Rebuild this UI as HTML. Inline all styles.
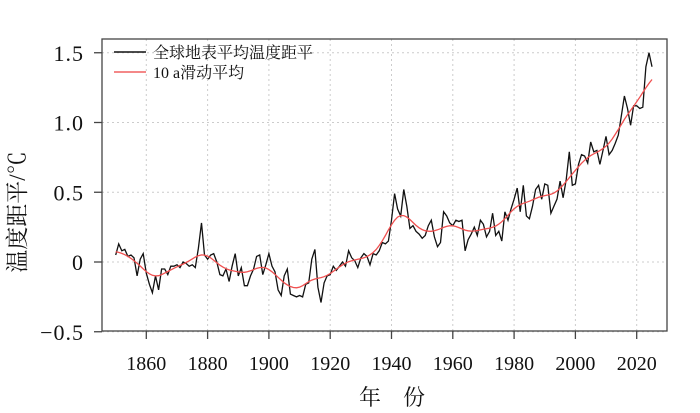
<!DOCTYPE html>
<html><head><meta charset="utf-8"><style>
body{margin:0;background:#fff;}
svg text{font-family:"Liberation Serif","Noto Serif CJK SC",serif;}
</style></head><body>
<svg id="s" width="700" height="408" xmlns="http://www.w3.org/2000/svg">
<rect x="0" y="0" width="700" height="408" fill="#fff"/>
<g id="grid" stroke="#ccc" stroke-width="1" stroke-dasharray="2,3"></g>
<g id="series"></g>
<rect x="102" y="39" width="565" height="292" fill="none" stroke="#444" stroke-width="1.3"/>
<g id="axes" stroke="#444" stroke-width="1.3"></g>
<g id="labels" fill="#111"></g>
<line x1="114" y1="52" x2="146" y2="52" stroke="#111" stroke-width="1.5"/>
<text x="153" y="58" font-size="16" fill="#111" font-family="'Liberation Serif','Noto Sans CJK SC',sans-serif">全球地表平均温度距平</text>
<line x1="114" y1="72" x2="146" y2="72" stroke="#f06060" stroke-width="1.5"/>
<text x="153" y="78" font-size="16" fill="#111" font-family="'Liberation Serif','Noto Sans CJK SC',sans-serif">10 a滑动平均</text>
<text transform="translate(25,212) rotate(-90)" text-anchor="middle" font-size="23" fill="#111" font-family="'Liberation Serif','Noto Serif CJK SC',serif">温度距平/℃</text>
<text x="392" y="405" text-anchor="middle" font-size="22" fill="#111" font-family="'Liberation Serif','Noto Serif CJK SC',serif">年　份</text>
</svg>
<script>
var d=[0.05,0.13,0.08,0.09,0.04,0.05,0.03,-0.10,0.02,0.06,
-0.08,-0.16,-0.22,-0.10,-0.20,-0.05,-0.05,-0.09,-0.03,-0.03,
-0.02,-0.04,0.00,-0.01,-0.03,-0.02,-0.04,0.10,0.28,0.05,
0.02,0.05,0.06,0.00,-0.09,-0.10,-0.05,-0.14,-0.03,0.06,
-0.10,-0.04,-0.17,-0.17,-0.10,-0.05,0.04,0.05,-0.09,-0.02,
0.06,-0.03,-0.07,-0.20,-0.24,-0.10,-0.05,-0.23,-0.24,-0.25,
-0.24,-0.25,-0.16,-0.15,0.02,0.09,-0.18,-0.29,-0.15,-0.10,
-0.09,-0.03,-0.06,-0.03,0.00,-0.03,0.08,0.03,0.01,-0.04,
0.03,0.06,0.04,-0.02,0.06,0.05,0.08,0.14,0.13,0.15,
0.30,0.49,0.38,0.33,0.52,0.40,0.24,0.26,0.22,0.20,
0.17,0.19,0.26,0.30,0.18,0.11,0.14,0.36,0.33,0.28,
0.26,0.30,0.29,0.30,0.08,0.16,0.20,0.25,0.19,0.30,
0.27,0.18,0.22,0.35,0.19,0.22,0.15,0.36,0.30,0.38,
0.45,0.53,0.36,0.55,0.33,0.31,0.40,0.52,0.55,0.45,
0.56,0.55,0.35,0.40,0.45,0.58,0.46,0.59,0.79,0.55,
0.56,0.70,0.77,0.76,0.71,0.86,0.79,0.80,0.70,0.80,
0.90,0.77,0.80,0.85,0.91,1.05,1.19,1.10,0.98,1.12,
1.12,1.10,1.11,1.40,1.50,1.40];
function X(y){return 146.3+(y-1860)*3.065;}
function Y(v){return 262-139.5*v;}
var ns="http://www.w3.org/2000/svg";
function el(p,t,a,txt){var e=document.createElementNS(ns,t);for(var k in a)e.setAttribute(k,a[k]);if(txt)e.textContent=txt;document.getElementById(p).appendChild(e);}
for(var y=1860;y<=2020;y+=20){var x=X(y);el("grid","line",{x1:x,y1:39,x2:x,y2:331});
el("axes","line",{x1:x,y1:331,x2:x,y2:339});
el("labels","text",{x:x,y:370,"text-anchor":"middle","font-size":"20"},String(y));}
[1.5,1.0,0.5,0,-0.5].forEach(function(v){var yy=Y(v);el("grid","line",{x1:102,y1:yy,x2:667,y2:yy});
el("axes","line",{x1:94,y1:yy,x2:102,y2:yy});
var s=v==0?"0":(v<0?"\u22120.5":v.toFixed(1));
el("labels","text",{x:84,y:yy+8,"text-anchor":"end","font-size":"22","letter-spacing":"1"},s);});
var p="";for(var i=0;i<d.length;i++)p+=(i?"L":"M")+X(1850+i).toFixed(1)+","+Y(d[i]).toFixed(1);
el("series","path",{d:p,fill:"none",stroke:"#111","stroke-width":"1.3"});
var q="";for(var i=0;i<d.length;i++){var s=0,w=0;for(var j=i-8;j<=i+8;j++){if(j<0||j>=d.length)continue;var ww=Math.exp(-(j-i)*(j-i)/(2*3.2*3.2));s+=d[j]*ww;w+=ww;}var m=s/w;q+=(i?"L":"M")+X(1850+i).toFixed(1)+","+Y(m).toFixed(1);}
el("series","path",{d:q,fill:"none",stroke:"#f05050","stroke-width":"1.3"});
</script>
</body></html>
